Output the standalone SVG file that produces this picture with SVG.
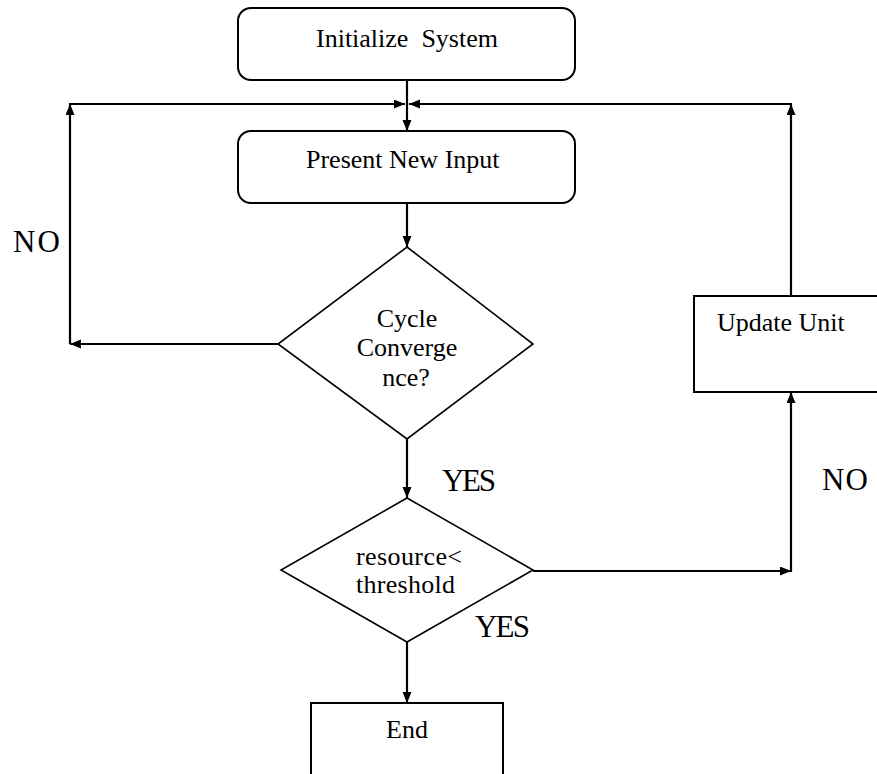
<svg xmlns="http://www.w3.org/2000/svg" width="877" height="774" viewBox="0 0 877 774">
<style>
  .node { fill: #fff; stroke: #000; stroke-width: 2; }
  .dia { fill: #fff; stroke: #000; stroke-width: 1.6; }
  .t { font-family: "Liberation Serif", "Times New Roman", serif; font-size: 26px; fill: #000; }
  .lbl { font-family: "Liberation Serif", "Times New Roman", serif; font-size: 31px; fill: #000; }
  .conn line { stroke: #000; stroke-width: 2.2; fill: none; }
</style>
<defs>
  <marker id="arr" markerUnits="userSpaceOnUse" markerWidth="12" markerHeight="10" refX="11" refY="4.5" orient="auto">
    <path d="M0,0 L11,4.5 L0,9 z" fill="#000"/>
  </marker>
</defs>
<rect width="877" height="774" fill="#fff"/>

<g class="conn" id="connectors">
  <line x1="407" y1="80" x2="407" y2="131" marker-end="url(#arr)"/>
  <line x1="278" y1="344" x2="70" y2="344" marker-end="url(#arr)"/>
  <line x1="70" y1="344" x2="70" y2="104" marker-end="url(#arr)"/>
  <line x1="69" y1="104" x2="405" y2="104" marker-end="url(#arr)"/>
  <line x1="533" y1="571" x2="791" y2="571" marker-end="url(#arr)"/>
  <line x1="791" y1="572" x2="791" y2="392" marker-end="url(#arr)"/>
  <line x1="791" y1="296" x2="791" y2="104" marker-end="url(#arr)"/>
  <line x1="792" y1="104" x2="409" y2="104" marker-end="url(#arr)"/>
  <line x1="407" y1="203" x2="407" y2="247" marker-end="url(#arr)"/>
  <line x1="407" y1="439" x2="407" y2="498" marker-end="url(#arr)"/>
  <line x1="407" y1="642" x2="407" y2="703" marker-end="url(#arr)"/>
</g>

<g id="init">
  <rect class="node" x="238" y="8" width="337" height="72" rx="13"/>
  <text class="t" x="316" y="47" xml:space="preserve">Initialize  System</text>
</g>

<g id="present">
  <rect class="node" x="238" y="131" width="337" height="72" rx="13"/>
  <text class="t" x="306" y="168">Present New Input</text>
</g>

<g id="cycle">
  <polygon class="dia" points="407,247 533,344 407,439 278,344"/>
  <text class="t" text-anchor="middle" x="407" y="327">Cycle</text>
  <text class="t" text-anchor="middle" x="407" y="356">Converge</text>
  <text class="t" text-anchor="middle" x="406" y="386">nce?</text>
</g>

<g id="resource">
  <polygon class="dia" points="407,498 533,570 407,642 281,570"/>
  <text class="t" x="356" y="565" textLength="106">resource&lt;</text>
  <text class="t" x="356" y="593" textLength="99">threshold</text>
</g>

<g id="update">
  <rect class="node" x="694" y="296" width="200" height="96"/>
  <text class="t" x="717" y="331">Update Unit</text>
</g>

<g id="end">
  <rect class="node" x="311" y="703" width="192" height="90"/>
  <text class="t" x="386" y="738">End</text>
</g>

<g id="labels">
  <text class="lbl" x="13" y="252" textLength="47">NO</text>
  <text class="lbl" x="822" y="490" textLength="46">NO</text>
  <text class="lbl" x="442" y="491" textLength="54">YES</text>
  <text class="lbl" x="475" y="637" textLength="55">YES</text>
</g>
</svg>
